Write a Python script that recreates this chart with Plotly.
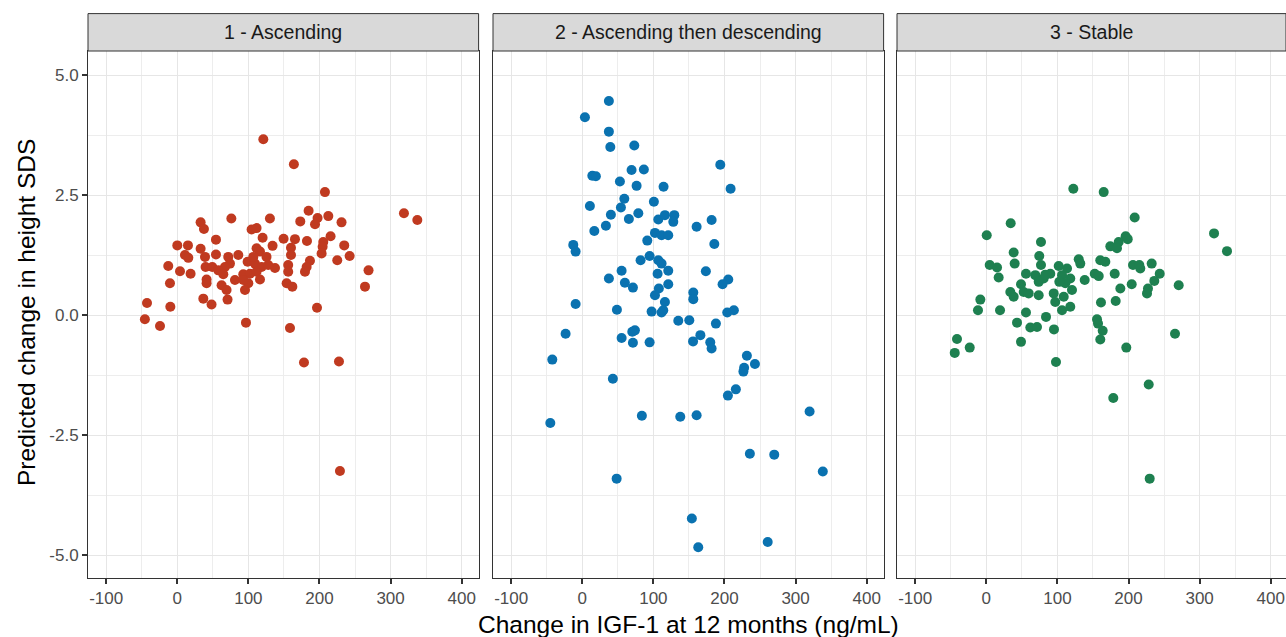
import plotly.graph_objects as go

panels = ["1 - Ascending", "2 - Ascending then descending", "3 - Stable"]
colors = ["#C03A20", "#0A72B0", "#1E8050"]

asc_x = [121, 164, 207.7, 318.8, 337.6, 184.7, 197.3, 212.4, 173, 193.7, 231, 32.8, 37.5, 76, 130.3,
         104.5, 111.5, 120, 54.4, 149.5, 165.5, 182.4, 215.6, 205.3, 234.8, 0, 15, 32.8, 10.8, 15.5,
         54.4, 39, 134, 111.5, 116.3, 159.9, 159.9, 204.4, 203, 242.4, 225, 186.6, 181.9, 179.6,
         156, 156, 269, 264, 137.4, 85.8, 71.7, 74.1, 67, -12.7, 3.8, 18.7, 39.8, 49.2, 57.7, 64.7,
         41.2, 41.2, -10.3, 62.3, 69.3, 70.7, 81.1, 92.8, 98.9, 109.2, 118.6, 102.2, 111.5, 116.3,
         99.9, 95.2, 92.8, 125.5, 127.9, 106.9, 153.8, 161.8, 196.5, -42.6, -9.8, 36.6, 48.2,
         -45.6, -24.3, 96.6, 158.5, 178.2, 227.4, 228.8]
asc_y = [3.67, 3.15, 2.57, 2.13, 1.99, 2.18, 2.03, 2.07, 1.96, 1.90, 1.94, 1.94, 1.80, 2.02, 2.02,
         1.79, 1.82, 1.62, 1.58, 1.60, 1.59, 1.55, 1.65, 1.53, 1.46, 1.46, 1.46, 1.39, 1.26, 1.20,
         1.27, 1.22, 1.45, 1.40, 1.33, 1.41, 1.26, 1.43, 1.29, 1.24, 1.15, 1.14, 1.01, 0.91,
         1.05, 0.91, 0.94, 0.60, 0.99, 1.26, 1.22, 1.08, 1.01, 1.03, 0.92, 0.87, 1.01, 1.01, 0.94, 0.86,
         0.75, 0.67, 0.67, 0.63, 0.53, 0.33, 0.74, 0.86, 1.12, 1.08, 1.01, 0.87, 0.91, 0.75,
         0.67, 0.53, 0.74, 1.22, 1.05, 1.22, 0.67, 0.60, 0.16, 0.26, 0.18, 0.35, 0.23,
         -0.08, -0.22, -0.15, -0.26, -0.98, -0.96, -3.24]

asd_x = [37.4, 3.7, 37.4, 39.4, 73.1, 194.1, 69.3, 86.6, 14.1, 19.1, 52.9, 76.4, 114.3, 208.6,
         59.1, 54.3, 100.7, 10.7, 40.2, 78.8, 65.5, 106.9, 116.2, 129.4, 128, 181.9, 33.2, 16.9,
         160.8, 102.2, 111.5, 120.9, 91.4, 185.7, -12.7, -9.4, 82, 94.7, 106.9, 111.5, 105.9, 120.9,
         173.8, 55.3, 37.4, 59.9, 71.2, 120.9, 107.7, 102.2, 116.2, 156.1, 156.1, 205.3, 197.3,
         -9.4, 48.7, 97.5, 111.5, 113.9, 135, 150.5, 203.9, 213.2, 187.9, -23.5, 74, 70.3,
         55.3, 71.2, 94.7, 155.8, 166.1, 180, 181.9, -42.2, 231.5, 242.8, 227.6, 226.6, 43,
         216, 204.8, -45, 83.8, 137.8, 160.8, 319.7, 235.7, 270, 338.3, 48.3, 154.1, 163.1, 260.8]
asd_y = [4.47, 4.13, 3.83, 3.51, 3.54, 3.14, 3.03, 3.04, 2.91, 2.90, 2.79, 2.70, 2.68, 2.64,
         2.43, 2.25, 2.37, 2.28, 2.10, 2.13, 2.01, 2.00, 2.09, 2.09, 1.95, 1.99, 1.87, 1.76,
         1.85, 1.72, 1.67, 1.67, 1.56, 1.49, 1.47, 1.33, 1.15, 1.24, 1.15, 1.08, 0.87, 0.93,
         0.92, 0.93, 0.77, 0.68, 0.58, 0.65, 0.56, 0.42, 0.28, 0.48, 0.34, 0.75, 0.65,
         0.24, 0.12, 0.08, 0.06, 0.11, -0.11, -0.10, 0.06, 0.11, -0.17, -0.38, -0.31, -0.34,
         -0.47, -0.57, -0.56, -0.54, -0.41, -0.56, -0.69, -0.92, -0.84, -1.01, -1.09, -1.17, -1.32,
         -1.54, -1.67, -2.24, -2.09, -2.11, -2.08, -2.00, -2.88, -2.90, -3.25, -3.40, -4.23, -4.83, -4.72]

sta_x = [122.4, 165.1, 208.7, 320.3, 338.5, 34.3, 0.6, 76.9, 196, 186.2, 174.4, 183.8, 198.9,
         38.5, 39.9, 74.5, 76.9, 4.8, 15.1, 17.4, 130, 132.2, 160.3, 167.4, 206.3, 215.2, 216.6,
         232.6, 243.9, 236.3, 270.6, 227.4, 226, 180.6, 152.5, 158.1, 188.5, 204.5, 182, 161.3,
         138.4, 101.8, 113.5, 106.5, 118.1, 111.1, 102.7, 120.5, 94.8, 108.9, 97, 106.5, 118.1, 90,
         55.8, 68.9, 80.7, 73.7, 83, 48.8, 52.6, 59.6, 73.7, 33.8, 38.5, -8.4, -11.7, 19.3, 55.8,
         43.2, 61.9, 71.3, 84, 95.2, 48.8, 155.7, 157.1, 163.7, 160.3, 265.4, 196.9, -41.2, -23.3,
         -44.4, 98, 228.4, 178.6, 229.8]
sta_y = [2.64, 2.57, 2.04, 1.71, 1.34, 1.92, 1.67, 1.53, 1.65, 1.53, 1.44, 1.40, 1.59,
         1.31, 1.08, 1.24, 1.05, 1.05, 1.00, 0.79, 1.17, 1.08, 1.15, 1.12, 1.05, 1.05, 0.98,
         1.08, 0.87, 0.72, 0.63, 0.56, 0.46, 0.87, 0.87, 0.82, 0.56, 0.65, 0.30, 0.27,
         0.74, 1.03, 0.98, 0.84, 0.77, 0.67, 0.70, 0.53, 0.46, 0.39, 0.28, 0.11, 0.18, 0.87,
         0.87, 0.84, 0.77, 0.70, 0.85, 0.65, 0.49, 0.46, 0.42, 0.49, 0.39, 0.33, 0.11, 0.11, 0.06,
         -0.15, -0.25, -0.24, -0.03, -0.29, -0.55, -0.08, -0.17, -0.32, -0.50, -0.38, -0.67, -0.49, -0.67,
         -0.78, -0.97, -1.44, -1.72, -3.40]

xs = [asc_x, asd_x, sta_x]
ys = [asc_y, asd_y, sta_y]

x_ticks = [-100, 0, 100, 200, 300, 400]
y_ticks = [-5.0, -2.5, 0.0, 2.5, 5.0]
x_ticktext = [str(v) for v in x_ticks]
y_ticktext = [f"{v:.1f}" for v in y_ticks]

W, H = 1286, 637
ml, mr, mt, mb = 88, 0, 51, 59
pw = W - ml - mr
ph = H - mt - mb
domains = [[0, 390.6 / pw], [405 / pw, 795.6 / pw], [809 / pw, 1.0]]
x_ranges = [[-125.6, 423.8], [-125.6, 423.8], [-125.6, 421.5]]
y_range = [-5.47, 5.51]

fig = go.Figure()
font = "Liberation Sans, Arial, sans-serif"
for i in range(3):
    ax = "" if i == 0 else str(i + 1)
    fig.add_trace(go.Scatter(
        x=xs[i], y=ys[i], mode="markers", xaxis="x" + ax, yaxis="y" + ax,
        marker=dict(color=colors[i], size=10, line=dict(width=0)), showlegend=False,
        hoverinfo="x+y"))
    fig.layout["xaxis" + ax] = dict(
        domain=domains[i], range=x_ranges[i], anchor="y" + ax,
        tickvals=x_ticks, ticktext=x_ticktext, ticks="outside", ticklen=5,
        tickcolor="#333333", tickwidth=1.5,
        tickfont=dict(family=font, size=17, color="#4D4D4D"),
        showgrid=True, gridcolor="#E6E6E6", gridwidth=1,
        minor=dict(dtick=50, tick0=-100, showgrid=True, gridcolor="#EDEDED", gridwidth=0.6, ticks=""),
        showline=True, mirror=True, linecolor="#333333", linewidth=1, zeroline=False)
    fig.layout["yaxis" + ax] = dict(
        domain=[0, 1], range=y_range, anchor="x" + ax,
        tickvals=y_ticks, ticktext=y_ticktext,
        ticks="outside" if i == 0 else "", ticklen=5, tickcolor="#333333", tickwidth=1.5,
        showticklabels=(i == 0),
        tickfont=dict(family=font, size=17, color="#4D4D4D"),
        showgrid=True, gridcolor="#E6E6E6", gridwidth=1,
        minor=dict(dtick=1.25, tick0=-5, showgrid=True, gridcolor="#EDEDED", gridwidth=0.6, ticks=""),
        showline=True, mirror=True, linecolor="#333333", linewidth=1, zeroline=False)
    strip_h = (50.7 - 13.3) / ph
    fig.add_shape(type="rect", xref="paper", yref="paper",
                  x0=domains[i][0], x1=domains[i][1], y0=1, y1=1 + strip_h,
                  fillcolor="#D9D9D9", line=dict(color="#333333", width=1), layer="above")
    fig.add_annotation(text=panels[i], xref="paper", yref="paper",
                       x=(domains[i][0] + domains[i][1]) / 2, y=1 + strip_h / 2,
                       showarrow=False, xanchor="center", yanchor="middle",
                       font=dict(family=font, size=19.5, color="#1A1A1A"))

fig.add_annotation(text="Change in IGF-1 at 12 months (ng/mL)", xref="paper", yref="paper",
                   x=(688 - ml) / pw, y=(H - mb - 624) / ph, showarrow=False,
                   xanchor="center", yanchor="middle",
                   font=dict(family=font, size=24.5, color="#000000"))
fig.add_annotation(text="Predicted change in height SDS", xref="paper", yref="paper",
                   x=(26 - ml) / pw, y=(H - mb - 313) / ph, showarrow=False, textangle=-90,
                   xanchor="center", yanchor="middle",
                   font=dict(family=font, size=24.5, color="#000000"))

fig.update_layout(width=W, height=H, margin=dict(l=ml, r=mr, t=mt, b=mb),
                  paper_bgcolor="white", plot_bgcolor="white")
fig.write_html("out.html")
